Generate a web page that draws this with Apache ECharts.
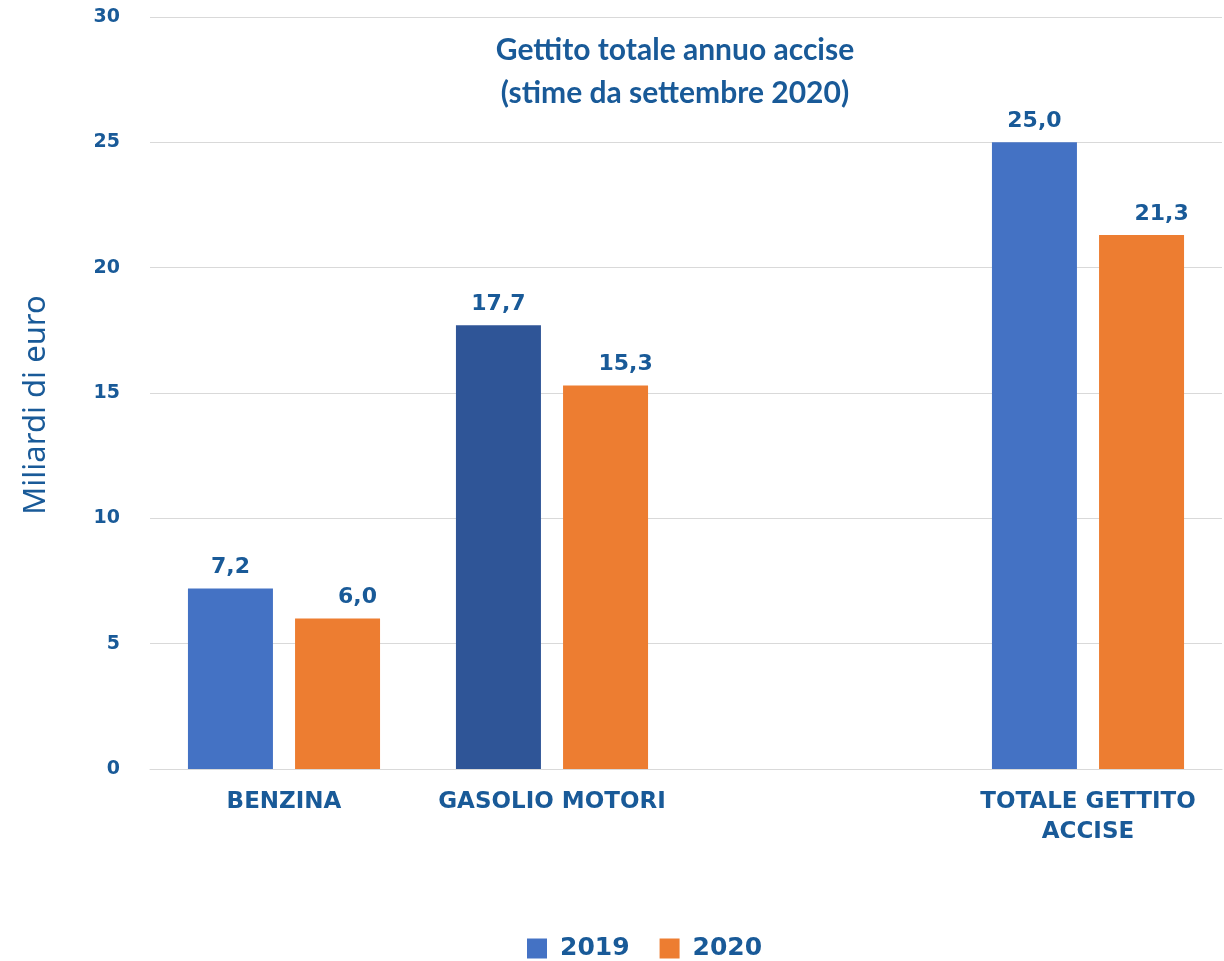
<!DOCTYPE html>
<html>
<head>
<meta charset="utf-8">
<script src="https://cdn.jsdelivr.net/npm/echarts@6/dist/echarts.min.js"></script>
<style>html,body{margin:0;padding:0;background:#fff;}#c{width:1224px;height:961px;}</style>
</head>
<body>
<div id="c"></div>
<script>
const categories = ['BENZINA', 'GASOLIO MOTORI', '', 'TOTALE GETTITO\nACCISE'];
const values2019 = [7.2, 17.7, null, 25.0];
const values2020 = [6.0, 15.3, null, 21.3];
const yTicks = [0, 5, 10, 15, 20, 25, 30];
const seriesNames = ['2019', '2020'];

const txt = '#195a98';
const font = 'Noto Sans';
const tfont = 'Lato';
const bfont = 'DejaVu Sans';
const chart = echarts.init(document.getElementById('c'));
chart.setOption({
  animation: false,
  title: {
    text: 'Gettito totale annuo accise\n(stime da settembre 2020)',
    left: 675, top: 29, textAlign: 'center', padding: 0,
    textStyle: { color: txt, fontFamily: tfont, fontWeight: 'bold', fontSize: 30, lineHeight: 43 }
  },
  legend: {
    data: seriesNames,
    top: 936, left: 527, padding: 0,
    icon: 'rect', itemWidth: 20, itemHeight: 20, itemGap: 30,
    textStyle: { color: txt, fontFamily: bfont, fontWeight: 'bold', fontSize: 25, padding: [0, 0, 0, 8] }
  },
  grid: { left: 150, right: 2, top: 17, bottom: 192 },
  xAxis: {
    type: 'category', data: categories,
    axisLine: { lineStyle: { color: '#d9d9d9' } },
    axisTick: { show: false },
    axisLabel: { color: txt, fontFamily: bfont, fontWeight: 'bold', fontSize: 23, lineHeight: 30, margin: 18, interval: 0 }
  },
  yAxis: {
    type: 'value', min: yTicks[0], max: yTicks[yTicks.length - 1], interval: 5,
    name: 'Miliardi di euro', nameLocation: 'middle', nameGap: 98,
    nameTextStyle: { color: txt, fontFamily: font, fontSize: 31, fontWeight: 'normal', padding: [0, 24, 0, 0] },
    axisLine: { show: false }, axisTick: { show: false },
    splitLine: { lineStyle: { color: '#d9d9d9' } },
    axisLabel: { color: txt, fontFamily: bfont, fontWeight: 'bold', fontSize: 19, margin: 30 }
  },
  series: [
    {
      name: seriesNames[0], type: 'bar', barWidth: 85, barGap: '26%',
      itemStyle: { color: '#4472c4' },
      data: values2019.map((v, i) => i === 1 ? { value: v, itemStyle: { color: '#2f5597' } } : v),
      label: { show: true, position: 'top', distance: 10, color: txt, fontFamily: bfont, fontWeight: 'bold', fontSize: 22,
        formatter: p => p.value == null ? '' : p.value.toFixed(1).replace('.', ',') }
    },
    {
      name: seriesNames[1], type: 'bar', barWidth: 85,
      itemStyle: { color: '#ed7d31' },
      data: values2020,
      label: { show: true, position: 'top', distance: 10, offset: [20, 0], color: txt, fontFamily: bfont, fontWeight: 'bold', fontSize: 22,
        formatter: p => p.value == null ? '' : p.value.toFixed(1).replace('.', ',') }
    }
  ]
});
</script>
</body>
</html>
